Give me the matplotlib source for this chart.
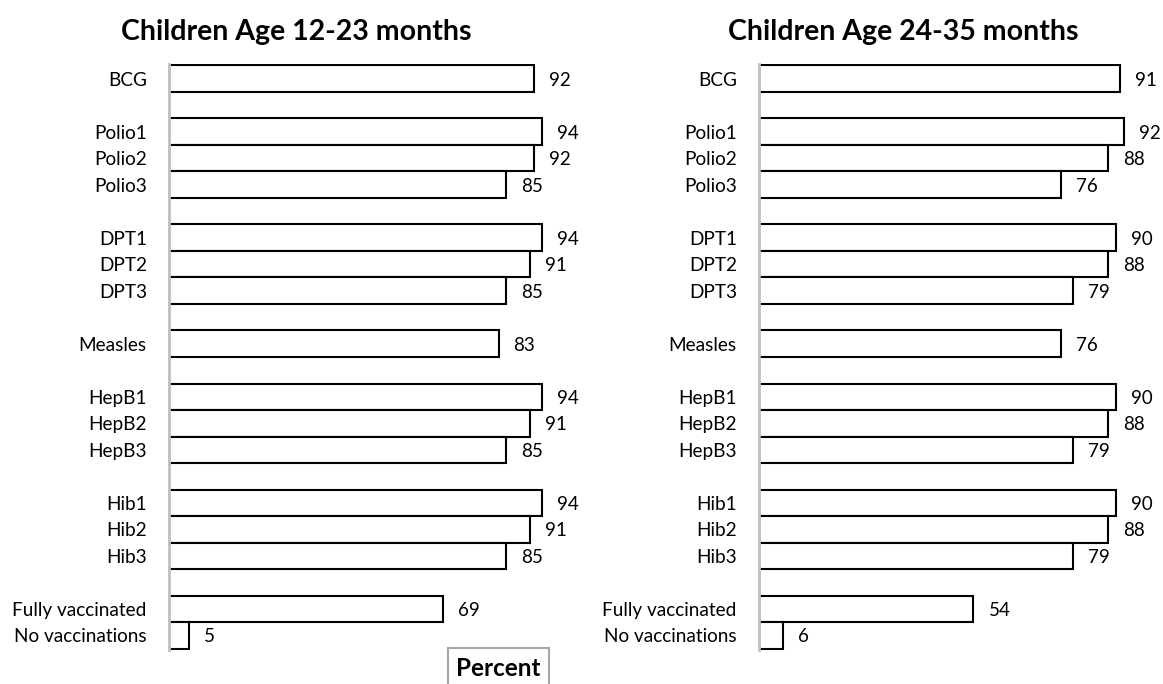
import matplotlib
matplotlib.use("Agg")
import matplotlib.pyplot as plt
from matplotlib.patches import Rectangle

plt.rcParams['font.family'] = ['Lato', 'DejaVu Sans']

categories = ["BCG", "", "Polio1", "Polio2", "Polio3", "", "DPT1", "DPT2", "DPT3", "",
              "Measles", "", "HepB1", "HepB2", "HepB3", "", "Hib1", "Hib2", "Hib3", "",
              "Fully vaccinated", "No vaccinations"]
values_12_23 = [92, None, 94, 92, 85, None, 94, 91, 85, None, 83, None, 94, 91, 85, None,
                94, 91, 85, None, 69, 5]
values_24_35 = [91, None, 92, 88, 76, None, 90, 88, 79, None, 76, None, 90, 88, 79, None,
                90, 88, 79, None, 54, 6]
titles = ["Children Age 12-23 months", "Children Age 24-35 months"]
xlabel = "Percent"

W, H = 1163, 684
fig = plt.figure(figsize=(W / 100, H / 100), dpi=100)

def add_panel(left_px, values, title, title_x):
    ax = fig.add_axes([left_px / W, 1 - 650 / H, 397 / W, 586 / H])
    idx = [i for i, v in enumerate(values) if v is not None]
    vals = [values[i] for i in idx]
    ax.barh(idx, vals, height=1.0, color="white", edgecolor="black", linewidth=1.5)
    for i, v in zip(idx, vals):
        ax.text(v + 3.8, i, f"{v}", va="center_baseline", ha="left", fontsize=13.5)
    ax.set_xlim(0, 100)
    ax.set_ylim(21.55, -0.55)
    ax.set_yticks(range(len(categories)))
    ax.set_yticklabels(categories, fontsize=13.7, va="center_baseline")
    ax.tick_params(axis="y", length=0, pad=16)
    ax.set_xticks([])
    for s in ["top", "right", "bottom"]:
        ax.spines[s].set_visible(False)
    ax.spines["left"].set_color("#bfbfbf")
    ax.spines["left"].set_linewidth(2)
    ax.patch.set_alpha(0)
    fig.text(title_x / W, 1 - 32 / H, title, ha="center", va="center",
             fontsize=20.5, fontweight="bold")
    return ax

add_panel(169, values_12_23, titles[0], 296)
add_panel(759, values_24_35, titles[1], 903)

box = Rectangle((448 / W, 1 - 700 / H), 101 / W, 52 / H, transform=fig.transFigure,
                facecolor="white", edgecolor="#a6a6a6", linewidth=1.5)
fig.patches.append(box)
fig.text(498.5 / W, 1 - 669 / H, xlabel, ha="center", va="center", fontsize=17.5,
         fontweight="bold")

fig.savefig("out.png", dpi=100)
